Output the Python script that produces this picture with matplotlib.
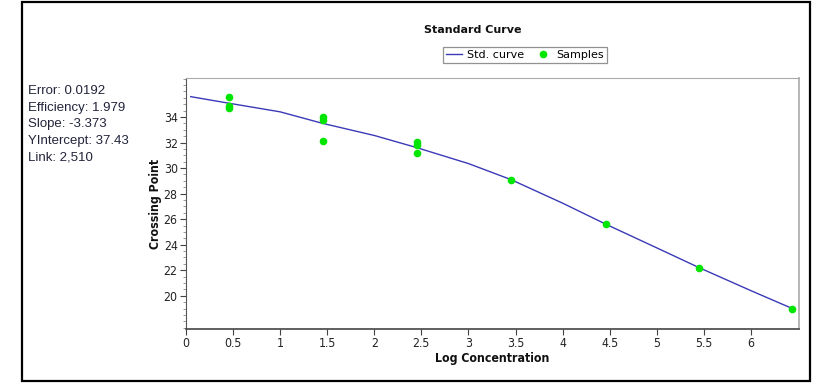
import matplotlib
matplotlib.use("Agg")
import matplotlib.pyplot as plt
from matplotlib.patches import Rectangle
from matplotlib.ticker import MultipleLocator, FuncFormatter
from matplotlib import font_manager

# samples (log concentration, crossing point)
sample_x = [0.46, 0.46, 0.46, 1.45, 1.45, 1.45, 2.45, 2.45, 2.45, 3.45, 4.46, 5.45, 6.44]
sample_y = [35.59, 34.86, 34.73, 34.02, 33.77, 32.15, 32.02, 31.79, 31.19, 29.07, 25.61, 22.19, 18.96]

# standard curve
curve_x = [0.05, 0.46, 1.0, 1.45, 2.0, 2.45, 3.0, 3.45, 4.0, 4.46, 5.0, 5.45, 6.0, 6.44]
curve_y = [35.59, 35.07, 34.4, 33.5, 32.55, 31.6, 30.35, 29.1, 27.25, 25.6, 23.75, 22.2, 20.4, 19.0]

stats = ["Error: 0.0192", "Efficiency: 1.979", "Slope: -3.373",
         "YIntercept: 37.43", "Link: 2,510"]

# narrow font if there is one
names = set(f.name for f in font_manager.fontManager.ttflist)
if "Liberation Sans Narrow" in names:
    narrow = ["Liberation Sans Narrow", "DejaVu Sans"]
    stretch = "normal"
else:
    narrow = ["DejaVu Sans"]
    stretch = "condensed"

fig = plt.figure(figsize=(8.26, 3.84), dpi=100)
W, H = 826.0, 384.0

# outer black frame
fig.patches.append(Rectangle((22 / W, 1 - 381 / H), (810 - 22) / W, (381 - 2) / H,
                             transform=fig.transFigure, fill=False,
                             edgecolor="black", linewidth=1.6))

ax = fig.add_axes([186 / W, 1 - 329 / H, (799 - 186) / W, (329 - 78) / H])
ax.plot(curve_x, curve_y, color="#3a3ab8", linewidth=1.0, label="Std. curve")
ax.plot(sample_x, sample_y, "o", color="#00e600", markersize=5.5,
        markeredgewidth=0, label="Samples")

ax.set_xlim(0, 6.51)
ax.set_ylim(17.4, 37.05)
ax.set_xticks([0, 0.5, 1, 1.5, 2, 2.5, 3, 3.5, 4, 4.5, 5, 5.5, 6])
ax.xaxis.set_major_formatter(FuncFormatter(lambda v, p: "%g" % v))
ax.set_yticks([20, 22, 24, 26, 28, 30, 32, 34])
ax.yaxis.set_minor_locator(MultipleLocator(0.5))
ax.tick_params(axis="both", which="major", direction="out", length=4,
               width=0.8, color="#444444", labelsize=8.8, pad=2)
ax.tick_params(axis="y", which="minor", direction="out", length=2,
               width=0.6, color="#888888")
for lab in ax.get_xticklabels() + ax.get_yticklabels():
    lab.set_family(narrow)
    lab.set_stretch(stretch)
    lab.set_color("#222222")

ax.spines["left"].set_color("#555555")
ax.spines["bottom"].set_color("#444444")
ax.spines["bottom"].set_linewidth(1.2)
ax.spines["top"].set_color("#aaaaaa")
ax.spines["right"].set_color("#aaaaaa")
ax.spines["right"].set_linewidth(1.2)

ax.set_xlabel("Log Concentration", fontsize=8.8, fontweight="bold",
              family=narrow, fontstretch=stretch, labelpad=1, color="#111111")
ax.set_ylabel("Crossing Point", fontsize=8.8, fontweight="bold",
              family=narrow, fontstretch=stretch, labelpad=1, color="#111111")

fig.text(473 / W, 1 - 30 / H, "Standard Curve", ha="center", va="center",
         fontsize=8, fontweight="bold", color="#111111")

leg = ax.legend(loc="center", bbox_to_anchor=(525 / W, 1 - 55 / H),
                bbox_transform=fig.transFigure, ncol=2, fontsize=8,
                frameon=True, fancybox=False, handlelength=1.4,
                handletextpad=0.5, columnspacing=1.0, borderpad=0.3)
leg.get_frame().set_edgecolor("#777777")
leg.get_frame().set_linewidth(0.9)

for i, s in enumerate(stats):
    fig.text(28 / W, 1 - (91 + i * 16.7) / H, s, ha="left", va="center",
             fontsize=9.5, color="#22243a", family=["Liberation Sans", "DejaVu Sans"])

fig.savefig("out.png", dpi=100)
